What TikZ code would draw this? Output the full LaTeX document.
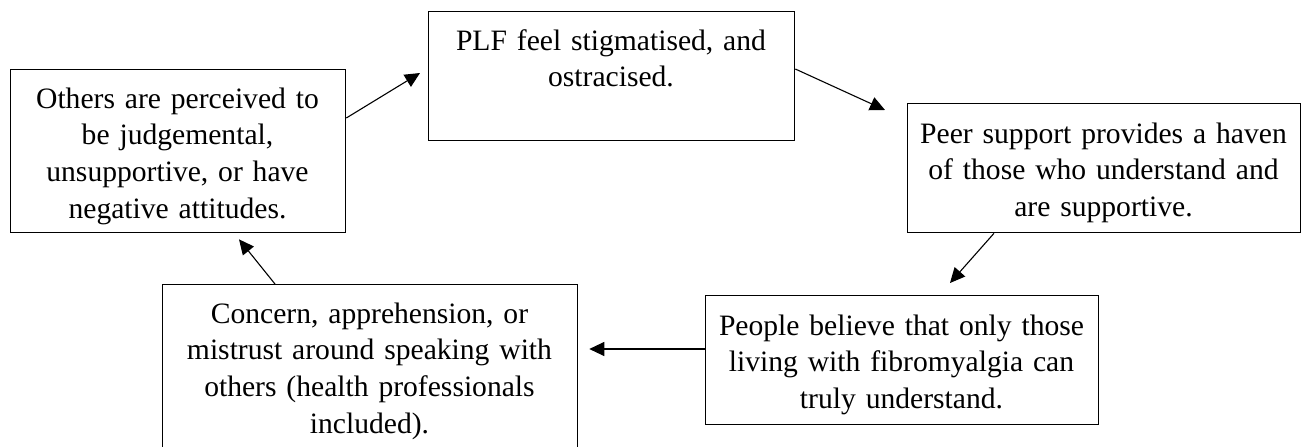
\documentclass[tikz,border=0pt]{standalone}
\usepackage{fontspec}
\setmainfont{Liberation Serif}
\usetikzlibrary{arrows.meta,calc}
\begin{document}
\begin{tikzpicture}[x=1pt,y=-1pt,
 box/.style={draw, line width=1.3pt, inner sep=0pt, anchor=north west},
 txt/.style={inner sep=0pt, align=center, font=\fontsize{29.6}{36.7}\selectfont, anchor=base},
 arr/.style={-{Triangle[length=15pt,width=14pt]}, line width=1.1pt}]
\clip (0,0) rectangle (1307,447);
\fill[white] (0,0) rectangle (1307,447);
% boxes
\node[box, minimum width=335, minimum height=163] (b1) at (10,69) {};
\node[box, minimum width=366, minimum height=129] (b2) at (428,11) {};
\node[box, minimum width=393, minimum height=129] (b3) at (907,103) {};
\node[box, minimum width=393, minimum height=129] (b4) at (705,295) {};
\node[box, minimum width=415, minimum height=170] (b5) at (162,284) {};
% texts
\node[txt, text width=325] (t1) at (177.5,108) {Others are perceived to\\be judgemental,\\unsupportive, or have\\negative attitudes.};
\node[txt, text width=356] (t2) at (611,50) {PLF feel stigmatised, and\\ostracised.};
\node[txt, text width=383] (t3) at (1103.5,143) {Peer support provides a haven\\of those who understand and\\are supportive.};
\node[txt, text width=383] (t4) at (901.5,335) {People believe that only those\\living with fibromyalgia can\\truly understand.};
\node[txt, text width=405] (t5) at (369.5,323) {Concern, apprehension, or\\mistrust around speaking with\\others (health professionals\\included).};
% arrow ends
\coordinate (s1) at ($(b1.north east)+(0,49)$);
\coordinate (e1) at ($(b2.north west)+(-8,62)$);
\coordinate (s2) at ($(b2.north east)+(0,58)$);
\coordinate (e2) at ($(b3.north west)+(-22,7)$);
\coordinate (s3) at ($(b3.south west)+(87,0)$);
\coordinate (e3) at ($(b4.north west)+(245,-12)$);
\coordinate (s4) at ($(b4.north west)+(0,54)$);
\coordinate (e4) at ($(b5.north east)+(11,65)$);
\coordinate (s5) at ($(b5.north west)+(113,0)$);
\coordinate (e5) at ($(b1.south west)+(229,6)$);
\draw[arr] (s1) -- (e1);
\draw[arr] (s2) -- (e2);
\draw[arr] (s3) -- (e3);
\draw[arr] (s4) -- (e4);
\draw[arr] (s5) -- (e5);
\end{tikzpicture}
\end{document}
